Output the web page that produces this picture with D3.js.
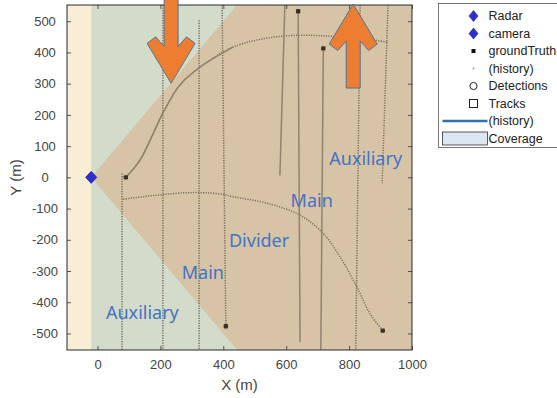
<!DOCTYPE html>
<html>
<head>
<meta charset="utf-8">
<script src="https://cdn.jsdelivr.net/npm/d3@7"></script>
<style>
  html, body { margin: 0; padding: 0; background: #fff; }
  svg { display: block; }
</style>
</head>
<body>
<svg id="chart" width="557" height="398"></svg>
<script>
// sensor mount point (m) and fields of view (deg)
const sensorPosition = [-20, 0];
const radarFov = 100;
const cameraFov = 180;

const xDomain = [-97, 1000];
const yDomain = [-553, 552];
const xTicks = [0, 200, 400, 600, 800, 1000];
const yTicks = [-500, -400, -300, -200, -100, 0, 100, 200, 300, 400, 500];

// ground truth history, drawn as small dots
const truthHistory = [
  [[78, 12], [78, -560]],
  [[208, 560], [208, -560]],
  [[323, 503], [323, -560]],
  [[396, 560], [408, -477]],
  [[835, 560], [821, -560]],
  [[924, 560], [905, -19]],
  [[90, 0], [135, 55], [208, 206], [262, 296], [326, 353], [431, 417], [539, 446], [644, 455], [739, 452], [835, 446], [920, 433]],
  [[82, -70], [188, -57], [294, -49], [390, -53], [432, -62], [539, -83], [644, -121], [717, -179], [771, -254], [824, -350], [866, -436], [907, -491]]
];

// track history, drawn as lines
const trackHistory = [
  [[596, 560], [580, 6]],
  [[638, 532], [644, -528]],
  [[718, 413], [710, -560]],
  [[90, 0], [135, 55], [208, 206], [262, 296], [326, 353], [431, 417]]
];

// current ground truth positions
const groundTruth = [[90, 0], [638, 532], [718, 413], [408, -477], [907, -491]];

// lane annotations (text, x, y in metres)
const laneNames = ['Auxiliary', 'Main', 'Divider', 'Main', 'Auxiliary'];
const laneX = [737, 614, 418, 268, 27];
const laneY = [38, -94, -224, -327, -455];

// block arrows (tip x, tip y in metres, direction)
const arrowTips = [[234, 301], [813, 555]];
const arrowDirs = ['down', 'up'];

const legendNames = ['Radar', 'camera', 'groundTruth', '(history)', 'Detections', 'Tracks', '(history)', 'Coverage'];

const margin = { left: 67, top: 5, right: 145, bottom: 48 };
const width = 557, height = 398;

const svg = d3.select('#chart');
const x = d3.scaleLinear().domain(xDomain).range([margin.left, width - margin.right]);
const y = d3.scaleLinear().domain(yDomain).range([height - margin.bottom, margin.top]);
const [x0, x1] = x.range();
const [y1, y0] = y.range();

svg.append('defs').append('clipPath').attr('id', 'plot')
  .append('rect').attr('x', x0).attr('y', y0).attr('width', x1 - x0).attr('height', y1 - y0);

const plot = svg.append('g').attr('clip-path', 'url(#plot)');

// axes background
plot.append('rect')
  .attr('x', x0).attr('y', y0).attr('width', x1 - x0).attr('height', y1 - y0)
  .attr('fill', '#f8edd5');

/**
 * Builds a coverage sector polygon (in metres) for a sensor field of view.
 */
function sector(fov) {
  const pts = [sensorPosition];
  const range = 4000;
  for (let a = -fov / 2; a <= fov / 2; a += 2) {
    const r = a * Math.PI / 180;
    pts.push([sensorPosition[0] + range * Math.cos(r), sensorPosition[1] + range * Math.sin(r)]);
  }
  return pts;
}

const area = d3.line().x(d => x(d[0])).y(d => y(d[1]));

plot.append('path').attr('d', area(sector(cameraFov)) + 'Z').attr('fill', '#d3dccb');
plot.append('path').attr('d', area(sector(radarFov)) + 'Z').attr('fill', '#d7c4a7');

const curve = d3.line().x(d => x(d[0])).y(d => y(d[1])).curve(d3.curveCatmullRom);

plot.selectAll('.truth')
  .data(truthHistory)
  .enter()
  .append('path')
  .attr('class', 'truth')
  .attr('d', curve)
  .attr('fill', 'none')
  .attr('stroke', '#7a6f5f')
  .attr('stroke-width', 1.5)
  .attr('stroke-dasharray', '1.2,1.3');

plot.selectAll('.track')
  .data(trackHistory)
  .enter()
  .append('path')
  .attr('class', 'track')
  .attr('d', curve)
  .attr('fill', 'none')
  .attr('stroke', '#8f8371')
  .attr('stroke-width', 1.5);

plot.selectAll('.gt')
  .data(groundTruth)
  .enter()
  .append('rect')
  .attr('class', 'gt')
  .attr('x', d => x(d[0]) - 2.2)
  .attr('y', d => y(d[1]) - 2.2)
  .attr('width', 4.4)
  .attr('height', 4.4)
  .attr('rx', 1)
  .attr('fill', '#3b3122');

// radar / camera mount
const diamond = (w, h) => `M0,${-h}L${w},0L0,${h}L${-w},0Z`;
plot.append('path')
  .attr('transform', `translate(${x(sensorPosition[0])},${y(sensorPosition[1])})`)
  .attr('d', diamond(5.5, 6))
  .attr('fill', '#2f2fd0')
  .attr('stroke', '#1a1aa0')
  .attr('stroke-width', 0.8);

// axes with inward ticks on every side
const axisFont = 'Liberation Sans, Arial, sans-serif';
const fmt = d => String(d);
const axisB = svg.append('g').attr('transform', `translate(0,${y1})`)
  .call(d3.axisBottom(x).tickValues(xTicks).tickFormat(fmt).tickSize(-4).tickPadding(10));
const axisL = svg.append('g').attr('transform', `translate(${x0},0)`)
  .call(d3.axisLeft(y).tickValues(yTicks).tickFormat(fmt).tickSize(-4).tickPadding(22));
const axisT = svg.append('g').attr('transform', `translate(0,${y0})`)
  .call(d3.axisTop(x).tickValues(xTicks).tickSize(-4).tickFormat(''));
const axisR = svg.append('g').attr('transform', `translate(${x1},0)`)
  .call(d3.axisRight(y).tickValues(yTicks).tickSize(-4).tickFormat(''));

[axisB, axisL, axisT, axisR].forEach(g => {
  g.select('.domain').remove();
  g.selectAll('line').attr('stroke', '#333').attr('stroke-width', 0.8);
  g.selectAll('text').attr('fill', '#444').attr('font-family', axisFont).attr('font-size', 13);
});
axisL.selectAll('text').attr('text-anchor', 'middle');

svg.append('rect')
  .attr('x', x0).attr('y', y0).attr('width', x1 - x0).attr('height', y1 - y0)
  .attr('fill', 'none').attr('stroke', '#2b2b2b').attr('stroke-width', 1);

svg.append('text')
  .attr('x', (x0 + x1) / 2).attr('y', 390)
  .attr('text-anchor', 'middle')
  .attr('font-family', axisFont).attr('font-size', 15).attr('fill', '#444')
  .text('X (m)');
svg.append('text')
  .attr('transform', `translate(21,${(y0 + y1) / 2}) rotate(-90)`)
  .attr('text-anchor', 'middle')
  .attr('font-family', axisFont).attr('font-size', 15).attr('fill', '#444')
  .text('Y (m)');

// lane annotations
svg.selectAll('.lane')
  .data(laneNames)
  .enter()
  .append('text')
  .attr('class', 'lane')
  .attr('x', (d, i) => x(laneX[i]))
  .attr('y', (d, i) => y(laneY[i]))
  .attr('font-family', 'Noto Sans, Open Sans, sans-serif')
  .attr('font-size', 18)
  .attr('fill', '#4472c4')
  .text(d => d);

// block arrows, shape in pixels relative to the tip (pointing down)
const arrowShape = [[-7, -84], [-7, -37], [-15.5, -46.5], [-24, -40], [0, 0], [24, -40], [15.5, -46.5], [7, -37], [7, -84]];
svg.selectAll('.arrow')
  .data(arrowTips)
  .enter()
  .append('path')
  .attr('class', 'arrow')
  .attr('transform', (d, i) => `translate(${x(d[0])},${y(d[1])})` + (arrowDirs[i] === 'up' ? ' scale(1,-1)' : ''))
  .attr('d', d3.line()(arrowShape) + 'Z')
  .attr('fill', '#ed7d31')
  .attr('stroke', '#41719c')
  .attr('stroke-width', 0.9);

// legend
const legend = svg.append('g').attr('transform', 'translate(438.5,3.5)');
legend.append('rect')
  .attr('width', 130).attr('height', 144)
  .attr('fill', '#fff').attr('stroke', '#555').attr('stroke-width', 0.8);

const rowY = i => 12.5 + i * 17.5;
const mx = 35;
const items = legend.selectAll('.item')
  .data(legendNames)
  .enter()
  .append('g')
  .attr('class', 'item')
  .attr('transform', (d, i) => `translate(0,${rowY(i)})`);

items.append('text')
  .attr('x', 50).attr('dy', '0.35em')
  .attr('font-family', axisFont).attr('font-size', 12.5).attr('fill', '#222')
  .text(d => d);

items.each(function (d, i) {
  const g = d3.select(this);
  if (i < 2) {
    g.append('path').attr('transform', `translate(${mx},0)`).attr('d', diamond(4.5, 5.5))
      .attr('fill', '#2f2fd0').attr('stroke', '#1a1aa0').attr('stroke-width', 0.6);
  } else if (i === 2) {
    g.append('rect').attr('x', mx - 2).attr('y', -2).attr('width', 4).attr('height', 4).attr('fill', '#111');
  } else if (i === 3) {
    g.append('circle').attr('cx', mx).attr('r', 0.9).attr('fill', '#999');
  } else if (i === 4) {
    g.append('circle').attr('cx', mx).attr('r', 3.6).attr('fill', 'none').attr('stroke', '#222').attr('stroke-width', 1);
  } else if (i === 5) {
    g.append('rect').attr('x', mx - 4).attr('y', -4).attr('width', 8).attr('height', 8)
      .attr('fill', 'none').attr('stroke', '#222').attr('stroke-width', 1);
  } else if (i === 6) {
    g.append('line').attr('x1', 4).attr('x2', 49).attr('stroke', '#2f73b0').attr('stroke-width', 2.5);
  } else {
    g.append('rect').attr('x', 4).attr('y', -6.5).attr('width', 45).attr('height', 13)
      .attr('fill', '#dde7f1').attr('stroke', '#333').attr('stroke-width', 0.8);
  }
});
</script>
</body>
</html>
